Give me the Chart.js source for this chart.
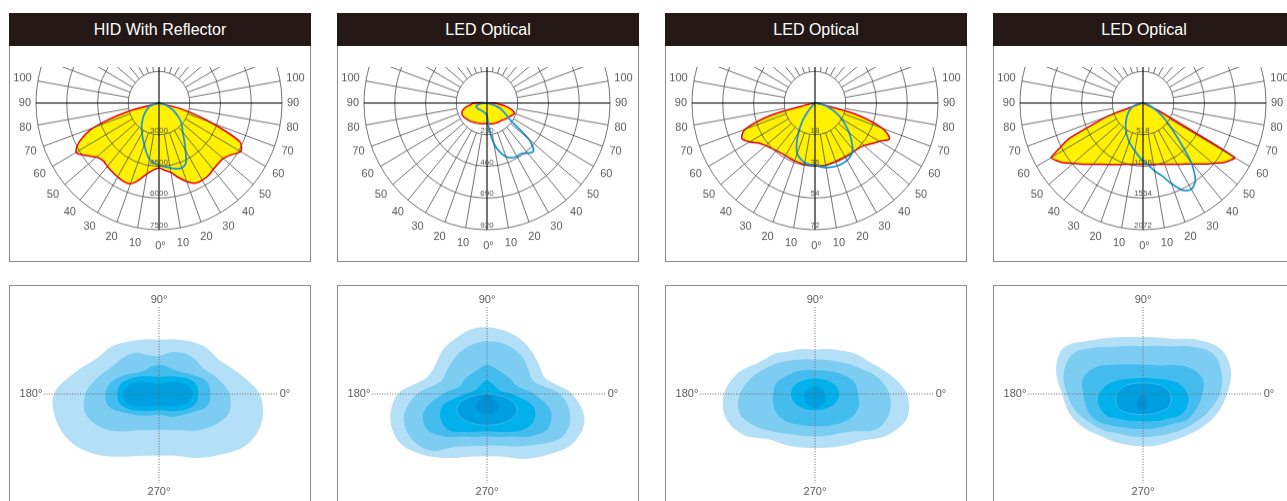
<!DOCTYPE html>
<html>
<head>
<meta charset="utf-8">
<script src="https://cdn.jsdelivr.net/npm/chart.js@4.4.1/dist/chart.umd.min.js"></script>
<style>
html,body{margin:0;padding:0;background:#fff;}
body{width:1287px;height:501px;overflow:hidden;position:relative;font-family:"Liberation Sans",Arial,Helvetica,sans-serif;}
.frame{position:absolute;border:1px solid #8c8c8c;box-sizing:border-box;background:#fff;}
.title{position:absolute;background:#231815;color:#fff;font-size:16px;text-align:center;height:33px;line-height:33px;white-space:nowrap;}
.clip{position:absolute;overflow:hidden;}
.clip canvas{position:absolute;}
</style>
</head>
<body>
<script>
// ---------------- DATA ----------------
const titles = ['HID With Reflector', 'LED Optical', 'LED Optical', 'LED Optical'];

// polar (gamma) angles, clockwise from nadir: 0-90 left half, 270-355 right half
const gammaAngles = [0,5,10,15,20,25,30,35,40,45,50,55,60,65,70,75,80,85,90,95,100,105,110,115,120,125,130,135,140,145,150,155,160,165,170,175,180,185,190,195,200,205,210,215,220,225,230,235,240,245,250,255,260,265,270,275,280,285,290,295,300,305,310,315,320,325,330,335,340,345,350,355];

// radial scale of each polar diagram (candela)
const polarMin  = [1500, 0, 0, 0];
const polarMax  = [7500, 920, 72, 2072];
const polarStep = [1500, 230, 18, 518];

// intensity curves (yellow / red outline plane)
const hidPlaneA = [4570,4690,4910,5270,5580,5600,5540,5480,5420,5360,5490,5840,6170,5760,4890,3100,1500,1500,1500,
  1500,1500,1500,1500,1500, 1500,1500,1500,1500,1500, 1500,1500,1500,1500,1500, 1500,1500,1500,1500,1500, 1500,1500,1500,1500,1500, 1500,1500,1500,1500,1500, 1500,1500,1500,1500,1500,
  1500,1500,1500,2710,4210,5860,6100,5780,5590,5570,5610,5700,5720,5690,5460,5150,4840,4700];
// intensity curves (blue plane)
const hidPlaneB = [4450,4330,4200,3900,3600,3360,3150,2980,2810,2630,2490,2350,2220,2110,1980,1790,1650,1500,1500,
  1500,1500,1500,1500,1500, 1500,1500,1500,1500,1500, 1500,1500,1500,1500,1500, 1500,1500,1500,1500,1500, 1500,1500,1500,1500,1500, 1500,1500,1500,1500,1500, 1500,1500,1500,1500,1500,
  1500,1500,1500,1740,1980,2220,2420,2660,2900,3090,3300,3650,4080,4620,4770,4720,4620,4520];

const led1PlaneA = [151,149,151,154,158,162,165,171,177,183,188,194,202,204,200,185,156,119,104,
  37, 0,0,0,0,0, 0,0,0,0,0, 0,0,0,0,0, 0,0,0,0,0, 0,0,0,0,0, 0,0,0,0,0, 0,0,0, 22,
  59,89,148,193,220,208,197,188,180,173,165,163,162,160,157,156,154,152];
const led1PlaneB = [89,82,74,72,70,69,68,68,69,70,74,78,81,82,83,84,67,52,22,
  0,0,0,0,0, 0,0,0,0,0, 0,0,0,0,0, 0,0,0,0,0, 0,0,0,0,0, 0,0,0,0,0, 0,0,0,0,0,
  0,0,22,48,96,126,163,208,408,493,475,449,447,438,415,367,300,193];

const led2PlaneA = [35.8,35.6,35.5,35.2,35.0,34.7,34.5,34.7,35.3,36.3,37.7,39.8,44.1,47.3,43.5,26.1,3,0,0,
  0,0,0,0,0, 0,0,0,0,0, 0,0,0,0,0, 0,0,0,0,0, 0,0,0,0,0, 0,0,0,0,0, 0,0,0,0,0,
  0,0,3,24.4,42.1,48.1,43.5,40.4,37.7,36.2,35.8,35.4,35.2,35.2,35.3,35.6,35.9,35.9];
const led2PlaneB = [35.4,35.0,34.4,32.8,30.5,25.5,19.2,13.4,7.3,2,0,0,0,0,0,0,0,0,0,
  0,0,0,0,0, 0,0,0,0,0, 0,0,0,0,0, 0,0,0,0,0, 0,0,0,0,0, 0,0,0,0,0, 0,0,0,0,0,
  0,1.7,4.1,7.0,10.5,14.1,18.0,21.8,26.1,30.1,34.3,36.5,37.6,37.9,38.0,37.7,37.3,36.3];

const led3PlaneA = [1003,1008,1019,1039,1069,1111,1161,1223,1309,1420,1537,1688,1788,1370,635,50,0,0,0,
  0,0,0,0,0, 0,0,0,0,0, 0,0,0,0,0, 0,0,0,0,0, 0,0,0,0,0, 0,0,0,0,0, 0,0,0,0,0,
  0,0,0,0,0,250,1788,1688,1537,1412,1303,1220,1158,1106,1068,1038,1019,1006];
const led3PlaneB = [944,869,794,732,677,618,568,510,455,401,356,314,276,234,192,134,67,0,0,
  0,0,0,0,0, 0,0,0,0,0, 0,0,0,0,0, 0,0,0,0,0, 0,0,0,0,0, 0,0,0,0,0, 0,0,0,0,0,
  0,0,25,67,117,192,292,434,602,852,1253,1537,1629,1571,1404,1232,1128,1019];

// iso-intensity contours: C-plane angle (counter-clockwise, 0 = right, 90 = top) -> gamma distance
const isoAngles = [0,15,30,45,60,75,90,105,120,135,150,165,180,195,210,225,240,255,270,285,300,315,330,345];

const hidIso1 = [100.5,82,69,66,61,56.5,54.3,56.5,60.5,67,71.5,86,105,106,99.5,86,72.5,64,61.7,64,74,86,101.5,106.5];
const hidIso2 = [70.5,60.5,51,50,47.5,43,38,40,47.5,51,54.5,63.5,73.5,76,67,53,42,37.5,35.7,37.5,42,52,63,72.5];
const hidIso3 = [51.5,49.3,38.5,31,28.3,28.8,29,28.5,27.5,30,38.5,48.5,54,51,38,30,25,22,20.7,22.5,26.5,30.5,37,49.5];
const hidIso4 = [39.3,38.5,31.8,24.5,20.5,18,17,18,20.5,25,31.5,39.5,41.7,40,32,24,19.5,17,16.3,17,19.5,24,31,37.8];
const hidIso5 = [34,31,23,17,13,11,10.5,11,13,17,24,32,36,34,25,18,14,12,11.5,12,14,18,24,31];

const led1Iso1 = [85,60.5,59.8,62,64.3,65.7,66.7,66.6,63.7,62.5,59.3,62.5,89,100,99.5,87,74,65,62.3,65,75,86,99,101];
const led1Iso2 = [73,48.5,48,51,52.5,53,52.7,51.8,50.2,48,46.5,48,70,86,88,80,61,54,51.7,53.5,60.5,71.5,86.5,86.5];
const led1Iso3 = [47,31,28.2,26.5,26,27.5,29.3,27,25.3,25.8,27,28.5,44,65,70,60,49,44.5,42.3,44.5,49,60,70,66];
const led1Iso4 = [25,13,11.5,10.8,11.3,12.5,14.3,12.5,11.3,10.8,11,13,22,46,53,52,44,39,37.3,39,44,50.7,54,48];
const led1Iso5 = [5.9,1.1,0.6,0.5,0.5,0.5,0.5,0.5,0.5,0.5,0.6,1.1,5.9,26.1,34.7,34.9,33.2,31.8,31.3,31.8,33.2,34.9,34.7,26.1];
const led1Iso6 = [0,0,0,0,0,0,0,0,0,0,0,0,0,0,4,16,19,19.5,19.5,19.5,19,16,4,0];

const led2Iso1 = [92,77,63.6,57,50.3,46.5,44.3,46.5,49.5,57,63.8,80,91,92.4,82,64.3,59,55.5,54,55.5,59.5,66,83,95];
const led2Iso2 = [74.5,64.5,51.8,43.5,38,35.5,34.3,36,39.3,45.5,54,65,75,77.7,66.5,54,46.5,43.5,42.3,43.5,45.5,53,70.5,76.8];
const led2Iso3 = [43,41.5,36,30.5,26.5,24.5,23.7,25,27,30.5,34.5,40.3,42,43,42.5,39.5,35,33,32.3,33.5,35.6,40,44,45.5];
const led2Iso4 = [24.2,23.1,20.8,18.5,16.8,15.8,15.5,15.8,16.8,18.5,20.8,23.1,24.2,23.3,21.3,19.2,17.5,16.6,16.2,16.6,17.5,19.2,21.3,23.3];
const led2Iso5 = [10.3,9.5,8.7,8.1,7.6,7.3,7.2,7.3,7.6,8.1,8.7,9.5,10.3,11.3,12.2,12.8,13.3,13.7,13.8,13.7,13.3,12.8,12.2,11.3];

const led3Iso1 = [84,91,89.8,76.8,63.5,58.5,57,59,65,75.5,92,90,80.7,76,68,59.5,55.5,53,52.3,53.3,54.8,59.7,67.6,76.6];
const led3Iso2 = [77,81.5,80.7,67,55.1,50,47.7,50,54.5,66,80.5,82,76,69,59.5,52.5,46,44,43,44,46.5,52,58.7,68];
const led3Iso3 = [59.5,61.5,53,41,33,30.3,29.3,30.5,34,41.5,54,62,59.7,58,53.5,44.5,38.5,36,35,36,38,42,51.3,55.5];
const led3Iso4 = [44.5,38,28,21.5,18,16.5,16,16.5,18,21.5,27.5,36.5,44,45.5,42.5,35,30.5,28,27.3,28.3,31,35,42.5,46];
const led3Iso5 = [27.5,23.5,18.5,14.5,12.5,11.5,11,11.5,12.5,14.5,18,22.5,26.5,28,28.5,25.5,22.5,21,20.7,21,22.5,24.8,28.3,28.8];
const led3Iso6 = [0,0,0,0,0,0,0,0,0,0,0,0,0,0,0,6,14,15.5,15.7,14,8,0,0,0];

// ---------------- ASSEMBLY ----------------
const planeA = [hidPlaneA, led1PlaneA, led2PlaneA, led3PlaneA];
const planeB = [hidPlaneB, led1PlaneB, led2PlaneB, led3PlaneB];
const isoSets = [
  [hidIso1, hidIso2, hidIso3, hidIso4, hidIso5],
  [led1Iso1, led1Iso2, led1Iso3, led1Iso4, led1Iso5, led1Iso6],
  [led2Iso1, led2Iso2, led2Iso3, led2Iso4, led2Iso5],
  [led3Iso1, led3Iso2, led3Iso3, led3Iso4, led3Iso5, led3Iso6]
];
[...planeA, ...planeB].forEach((a, i) => { if (a.length !== gammaAngles.length) throw new Error('polar series ' + i + ' has ' + a.length); });
isoSets.flat().forEach((a, i) => { if (a.length !== isoAngles.length) throw new Error('iso series ' + i + ' has ' + a.length); });

// ---------------- STYLE / LAYOUT ----------------
const panelLeft = [9, 337, 665, 993];
const GRID = '#505050';
const TEXT = '#5a5a5a';
const FONT = '"Liberation Sans", Arial, Helvetica, sans-serif';
const isoColors = ['#b4e0f7', '#7dcdf3', '#45bcee', '#00b1eb', '#009fe2', '#0090d6'];
const isoOutlined = [-1, 4, -1, 4];          // level drawn with a thin light edge
const isoGuide = {0: 118, 90: 88, 180: 117, 270: 89};
const isoLabelDist = {0: 126, 90: 94, 180: 128, 270: 98};

const polarDecor = {
  id: 'polarDecor',
  afterDraw(chart) {
    const s = chart.scales.r, ctx = chart.ctx, labels = chart.data.labels;
    const rIn = s.getDistanceFromCenterForValue(s.ticks[1].value);
    const rOut = s.getDistanceFromCenterForValue(s.max);
    const seg = (i, r0, r1) => {
      const a = s.getPointPosition(i, r0), b = s.getPointPosition(i, r1);
      ctx.beginPath(); ctx.moveTo(a.x, a.y); ctx.lineTo(b.x, b.y); ctx.stroke();
    };
    ctx.save();
    ctx.strokeStyle = GRID; ctx.lineWidth = 0.8;
    labels.forEach((deg, i) => { if (deg % 10 === 0 && deg % 90 !== 0) seg(i, rIn, rOut); });
    ctx.strokeStyle = '#000'; ctx.lineWidth = 1.1;
    labels.forEach((deg, i) => { if (deg % 90 === 0) seg(i, 0, rOut); });
    ctx.fillStyle = TEXT; ctx.font = '11px ' + FONT;
    ctx.textAlign = 'center'; ctx.textBaseline = 'middle';
    labels.forEach((deg, i) => {
      const g = deg <= 180 ? deg : 360 - deg;
      if (deg % 10 !== 0 || g > 100) return;
      const txt = g === 0 ? '0°' : String(g);
      const u = s.getPointPosition(i, 1);
      const ux = Math.abs(u.x - s.xCenter), uy = Math.abs(u.y - s.yCenter);
      const w = ctx.measureText(txt).width;
      const p = s.getPointPosition(i, rOut + 5 + ux * w / 2 + uy * 9 + (g === 0 ? 2 : 0));
      ctx.fillText(txt, p.x + (g === 0 ? 1.5 : 0), p.y);
    });
    ctx.font = '8px ' + FONT; ctx.fillStyle = '#505050';
    s.ticks.forEach((t, k) => {
      if (k === 0) return;
      const d = s.getDistanceFromCenterForValue(t.value);
      ctx.fillText(t.label, s.xCenter, s.yCenter + d - 4);
    });
    ctx.restore();
  }
};

const isoDecor = {
  id: 'isoDecor',
  afterDraw(chart) {
    const s = chart.scales.r, ctx = chart.ctx, labels = chart.data.labels;
    ctx.save();
    ctx.strokeStyle = '#6a6a6a'; ctx.lineWidth = 1; ctx.setLineDash([1, 1.6]);
    Object.keys(isoGuide).forEach(a => {
      const p = s.getPointPosition(labels.indexOf(+a), isoGuide[a]);
      ctx.beginPath(); ctx.moveTo(s.xCenter, s.yCenter); ctx.lineTo(p.x, p.y); ctx.stroke();
    });
    ctx.setLineDash([]);
    ctx.fillStyle = TEXT; ctx.font = '11px ' + FONT;
    ctx.textAlign = 'center'; ctx.textBaseline = 'middle';
    Object.keys(isoLabelDist).forEach(a => {
      const p = s.getPointPosition(labels.indexOf(+a), isoLabelDist[a]);
      ctx.fillText(a + '°', p.x, p.y);
    });
    ctx.restore();
  }
};

const toClockwise = arr => arr.map((_, k) => arr[(arr.length - k) % arr.length]);

function mk(tag, cls, css, parent) {
  const e = document.createElement(tag);
  if (cls) e.className = cls;
  Object.assign(e.style, css);
  (parent || document.body).appendChild(e);
  return e;
}

const baseOptions = () => ({
  responsive: false,
  animation: false,
  events: [],
  elements: { point: { radius: 0, hoverRadius: 0, hitRadius: 0 } },
  plugins: { legend: { display: false }, tooltip: { enabled: false } }
});

panelLeft.forEach((L, p) => {
  // ---- top: polar intensity diagram ----
  mk('div', 'frame', { left: L + 'px', top: '13px', width: '302px', height: '249px' });
  const clipTop = mk('div', 'clip', { left: (L + 1) + 'px', top: '67px', width: '300px', height: '194px' });
  const cv = mk('canvas', null, { left: '-1px', top: '-114px', transform: 'scaleY(1.03)', transformOrigin: '150px 150px' }, clipTop);
  cv.width = 300; cv.height = 300;
  const t = mk('div', 'title', { left: L + 'px', top: '13px', width: '302px' });
  t.textContent = titles[p];

  const opt = baseOptions();
  opt.layout = { padding: 27 };
  opt.scales = {
    r: {
      min: polarMin[p], max: polarMax[p], startAngle: 180,
      ticks: { display: false, stepSize: polarStep[p], callback: v => String(v) },
      pointLabels: { display: false },
      angleLines: { display: false },
      grid: { circular: true, color: GRID, lineWidth: 0.8, z: 1 }
    }
  };
  new Chart(cv, {
    type: 'radar',
    data: {
      labels: gammaAngles,
      datasets: [
        { label: 'C90-C270', data: planeB[p], borderColor: '#1f9ad8', borderWidth: 1.8, fill: false, order: 0, tension: 0.3 },
        { label: 'C0-C180', data: planeA[p], borderColor: '#e60012', borderWidth: 1.5, backgroundColor: '#fff100', fill: 'start', order: 1, tension: p === 3 ? 0.12 : 0.3 }
      ]
    },
    options: opt,
    plugins: [polarDecor]
  });

  // ---- bottom: iso-intensity diagram ----
  mk('div', 'frame', { left: L + 'px', top: '285px', width: '302px', height: '240px' });
  const clipBot = mk('div', 'clip', { left: (L + 1) + 'px', top: '286px', width: '300px', height: '215px' });
  const cv2 = mk('canvas', null, { left: '-1px', top: '-42px' }, clipBot);
  cv2.width = 300; cv2.height = 300;
  const levels = isoSets[p];
  const opt2 = baseOptions();
  opt2.layout = { padding: 30 };
  opt2.scales = {
    r: {
      min: 0, max: 120, startAngle: 90,
      ticks: { display: false },
      pointLabels: { display: false },
      angleLines: { display: false },
      grid: { display: false }
    }
  };
  new Chart(cv2, {
    type: 'radar',
    data: {
      labels: toClockwise(isoAngles),
      datasets: levels.map((arr, j) => ({
        label: 'level ' + (j + 1),
        data: toClockwise(arr),
        backgroundColor: isoColors[j],
        borderColor: j === isoOutlined[p] ? 'rgba(255,255,255,0.3)' : 'rgba(0,0,0,0)',
        borderWidth: j === isoOutlined[p] ? 0.7 : 0,
        fill: 'start',
        order: levels.length - j,
        tension: 0.35
      }))
    },
    options: opt2,
    plugins: [isoDecor]
  });
});
</script>
</body>
</html>
